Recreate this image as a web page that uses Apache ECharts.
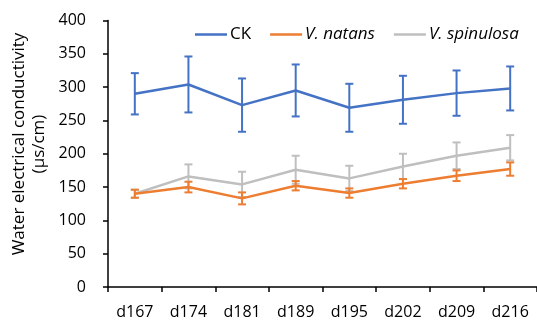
<!DOCTYPE html>
<html><head><meta charset="utf-8">
<script src="https://cdn.jsdelivr.net/npm/echarts@6/dist/echarts.min.js"></script>
<style>html,body{margin:0;padding:0;background:#fff}#c{width:537px;height:320px}</style>
</head><body><div id="c"></div>
<script>
const categories = ['d167','d174','d181','d189','d195','d202','d209','d216'];
const ck = [290, 304, 273, 295, 269, 281, 291, 298];
const ckErr = [31, 42, 40, 39, 36, 36, 34, 33];
const natans = [140, 150, 133, 152, 141, 155, 167, 177];
const natansErr = [6, 8, 9, 7, 7, 7, 8, 10];
const spinulosa = [140, 166, 154, 176, 163, 181, 197, 209];
const spinulosaErr = [6, 18, 19, 21, 19, 19, 20, 19];
const yTicks = [0, 50, 100, 150, 200, 250, 300, 350, 400];
const names = ['CK', 'V. natans', 'V. spinulosa'];
const colors = ['#4472C4', '#ED7D31', '#BFBFBF'];
const font = 'Open Sans';

function errSeries(vals, errs, color, z) {
  return {
    type: 'custom', z: z, silent: true,
    data: vals.map((v, i) => [i, v - errs[i], v + errs[i]]),
    renderItem: function (params, api) {
      const lo = api.coord([api.value(0), api.value(1)]);
      const hi = api.coord([api.value(0), api.value(2)]);
      const hw = 4;
      const st = { stroke: color, lineWidth: 2 };
      return { type: 'group', children: [
        { type: 'line', shape: { x1: lo[0], y1: lo[1], x2: hi[0], y2: hi[1] }, style: st },
        { type: 'line', shape: { x1: lo[0]-hw, y1: lo[1], x2: lo[0]+hw, y2: lo[1] }, style: st },
        { type: 'line', shape: { x1: hi[0]-hw, y1: hi[1], x2: hi[0]+hw, y2: hi[1] }, style: st }
      ]};
    }
  };
}
function lineSeries(name, vals, color, z) {
  return { name: name, type: 'line', data: vals, symbol: 'none', z: z,
    lineStyle: { color: color, width: 2.5 }, itemStyle: { color: color } };
}

const chart = echarts.init(document.getElementById('c'), null, { renderer: 'canvas' });
chart.setOption({
  animation: false,
  textStyle: { fontFamily: font },
  grid: { left: 108, top: 20.5, width: 435, height: 268 },
  legend: {
    top: 21, left: 190, itemWidth: 32, itemHeight: 2.5, itemGap: 19,
    icon: 'rect',
    data: names,
    textStyle: { fontSize: 17, color: '#000', padding: [0,0,0,-2],
      rich: { i: { fontStyle: 'italic', fontSize: 17, fontFamily: font, color: '#000' } } },
    formatter: function (n) { return n === 'CK' ? n : '{i|' + n + '}'; }
  },
  xAxis: {
    type: 'category', data: categories, boundaryGap: true,
    axisLine: { lineStyle: { color: '#000', width: 1.5 } },
    axisTick: { show: true, length: 5, inside: false, lineStyle: { color: '#000', width: 1.5 } },
    axisLabel: { color: '#000', fontSize: 16, margin: 17 },
    splitLine: { show: false }
  },
  yAxis: {
    type: 'value', min: 0, max: 400, interval: 50,
    axisLine: { show: true, lineStyle: { color: '#000', width: 1.5 } },
    axisTick: { show: true, length: 5, lineStyle: { color: '#000', width: 1.5 } },
    axisLabel: { color: '#000', fontSize: 16, margin: 22,
      formatter: function (v) { return yTicks.indexOf(v) >= 0 ? String(v) : ''; } },
    splitLine: { show: false }
  },
  graphic: [{
    type: 'text', x: 29, y: 144, rotation: Math.PI / 2,
    style: { text: 'Water electrical conductivity\n(µs/cm)', fontSize: 17, fontFamily: font,
      fill: '#000', align: 'center', verticalAlign: 'middle', lineHeight: 20 }
  }],
  series: [
    errSeries(spinulosa, spinulosaErr, colors[2], 2),
    lineSeries(names[2], spinulosa, colors[2], 3),
    errSeries(natans, natansErr, colors[1], 4),
    lineSeries(names[1], natans, colors[1], 5),
    errSeries(ck, ckErr, colors[0], 6),
    lineSeries(names[0], ck, colors[0], 7)
  ]
});
</script></body></html>
